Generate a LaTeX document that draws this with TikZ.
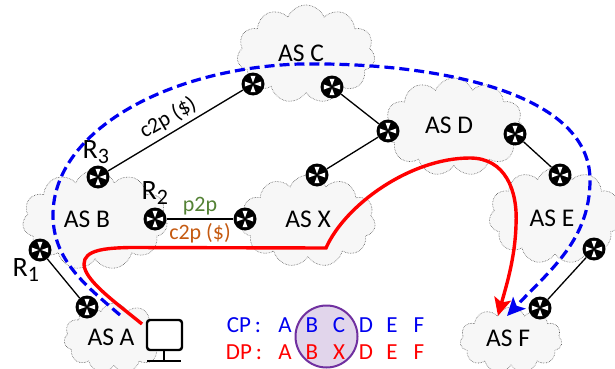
\documentclass[tikz,border=0pt]{standalone}
\usepackage{fontspec}
\setmainfont{Carlito}
\usetikzlibrary{shapes.symbols,arrows.meta}
\definecolor{cpblue}{RGB}{0,0,240}
\definecolor{dpred}{RGB}{255,0,0}
\definecolor{pgreen}{RGB}{84,130,53}
\definecolor{corange}{RGB}{197,90,17}
\definecolor{cpurple}{RGB}{112,48,160}
\definecolor{cfill}{RGB}{225,213,235}
\tikzset{
  ascloud/.style={cloud,cloud puffs=#1,cloud puff arc=135,cloud ignores aspect,draw=black!65,densely dotted,line width=0.6pt,fill=black!3,inner sep=0pt},
  ascloud/.default=11,
  router/.style={circle,fill=black,minimum size=23pt,inner sep=0pt},
  petal/.style={fill=white,draw=none},
  link/.style={draw=black,line width=1.3pt},
  aslabel/.style={font=\fontsize{25.5}{28}\selectfont,inner sep=0pt},
  rlabel/.style={font=\fontsize{28}{30}\selectfont,inner sep=0pt},
  lbl/.style={font=\fontsize{22}{24}\selectfont,inner sep=0pt},
  tbl/.style={font=\fontsize{23}{25}\selectfont,inner sep=0pt},
  cppath/.style={draw=cpblue,line width=3.2pt,dash pattern=on 10pt off 5pt,-{Stealth[length=18pt,width=17pt,inset=4pt]}},
  dppath/.style={draw=dpred,line width=3.4pt,-{Stealth[length=18pt,width=17pt,inset=4pt]}},
}
\begin{document}
\begin{tikzpicture}[x=1pt,y=-1pt]
\useasboundingbox (0,0) rectangle (615,369);
% clouds
\node[ascloud,minimum width=138pt,minimum height=98pt] (cC) at (306,54) {};
\node[ascloud,minimum width=140pt,minimum height=98pt] (cD) at (454,127) {};
\node[ascloud,minimum width=145pt,minimum height=100pt] (cB) at (95,220) {};
\node[ascloud,minimum width=135pt,minimum height=92pt] (cX) at (308,221) {};
\node[ascloud,minimum width=132pt,minimum height=96pt] (cE) at (555,216) {};
\node[ascloud,minimum width=100pt,minimum height=70pt] (cA) at (114,338) {};
\node[ascloud,minimum width=102pt,minimum height=66pt] (cF) at (511,340) {};
% labels
\node[aslabel] (lC) at (301,53) {AS C};
\node[aslabel] (lD) at (449,125) {AS D};
\node[aslabel] (lB) at (87,219) {AS B};
\node[aslabel] (lX) at (308,219) {AS X};
\node[aslabel] (lE) at (552,218) {AS E};
\node[aslabel] (lA) at (111,337) {AS A};
\node[aslabel] (lF) at (508,338) {AS F};
% routers
\node[router] (r3) at (98,177) {};
\node[router] (r2) at (155,219) {};
\node[router] (r1) at (40,250) {};
\node[router] (ra) at (87,307) {};
\node[router] (rx) at (245,219) {};
\node[router] (rc1) at (253,84) {};
\node[router] (rc2) at (332,87) {};
\node[router] (rd1) at (388,131) {};
\node[router] (rx2) at (317,175) {};
\node[router] (rd2) at (515,134) {};
\node[router] (re1) at (560,175) {};
\node[router] (re2) at (594,249) {};
\node[router] (rf) at (540,308) {};
\foreach \r in {r3,r2,r1,ra,rx,rc1,rc2,rd1,rx2,rd2,re1,re2,rf}{
  \foreach \a in {0,90,180,270}{
    \pgfmathsetmacro{\lo}{\a-17}
    \pgfmathsetmacro{\hi}{\a+17}
    \fill[petal] (\r.center) +(\a:1.3pt) -- +(\lo:8.6pt) -- +(\hi:8.6pt) -- cycle;
  }
}
% links
\draw[link] (r3) -- (rc1);
\node[lbl,rotate=30,text=black] (l1) at (168,118) {c2p (\$)};
\draw[link] (rc2) -- (rd1);
\draw[link] (rd1) -- (rx2);
\draw[link] (r2) -- (rx);
\draw[link] (r1) -- (ra);
\draw[link] (rd2) -- (re1);
\draw[link] (re2) -- (rf);
% router labels
\node[rlabel] (n3) at (96,152) {R\textsubscript{\fontsize{22}{24}\selectfont 3}};
\node[rlabel] (n2) at (155,193) {R\textsubscript{\fontsize{22}{24}\selectfont 2}};
\node[rlabel] (n1) at (26,270) {R\textsubscript{\fontsize{22}{24}\selectfont 1}};
\node[lbl,text=pgreen] (p2p) at (200,206) {p2p};
\node[lbl,text=corange] (c2p) at (200,233) {c2p (\$)};
% computer
\coordinate (st) at (164,351);
\coordinate (sb) at (164,361);
\draw[line width=2.4pt,rounded corners=3pt,fill=white] (147,320) rectangle (182,350);
\draw[line width=2.4pt] (st) -- (sb);
\draw[line width=2.4pt] (147,361) -- (181,361);
% table circle
\node[circle,draw=cpurple,fill=cfill,line width=2pt,minimum size=62pt,inner sep=0] (circ) at (326.5,336.5) {};
\foreach \n/\x/\t in {a/285/A,b/312/B,c/339/C,d/366/D,e/392/E,f/419/F}{
  \node[tbl,text=cpblue] (t\n) at (\x,325) {\t};
}
\foreach \n/\x/\t in {a/285/A,b/312/B,c/339/X,d/366/D,e/392/E,f/419/F}{
  \node[tbl,text=dpred] (u\n) at (\x,352) {\t};
}
\node[tbl,text=cpblue] (cp) at (244,325) {CP\,:};
\node[tbl,text=dpred] (dp) at (244,352) {DP\,:};
% paths
\coordinate (b0) at (120,315);
\coordinate (bE) at (507,316);
\draw[cppath] (b0) .. controls (85,285) and (53,260) .. (53,215)
  .. controls (53,130) and (170,68) .. (300,64)
  .. controls (430,62) and (590,90) .. (590,180)
  .. controls (590,240) and (550,270) .. (bE);
\coordinate (d0) at (142,324);
\coordinate (dE) at (498,316);
\draw[dppath] (d0) .. controls (115,302) and (84,280) .. (84,264)
  .. controls (84,250) and (105,248) .. (130,247.5) -- (326,248)
  .. controls (345,205) and (410,158) .. (470,158)
  .. controls (505,158) and (518,190) .. (516,225)
  .. controls (515,260) and (505,290) .. (dE);
\end{tikzpicture}
\end{document}
